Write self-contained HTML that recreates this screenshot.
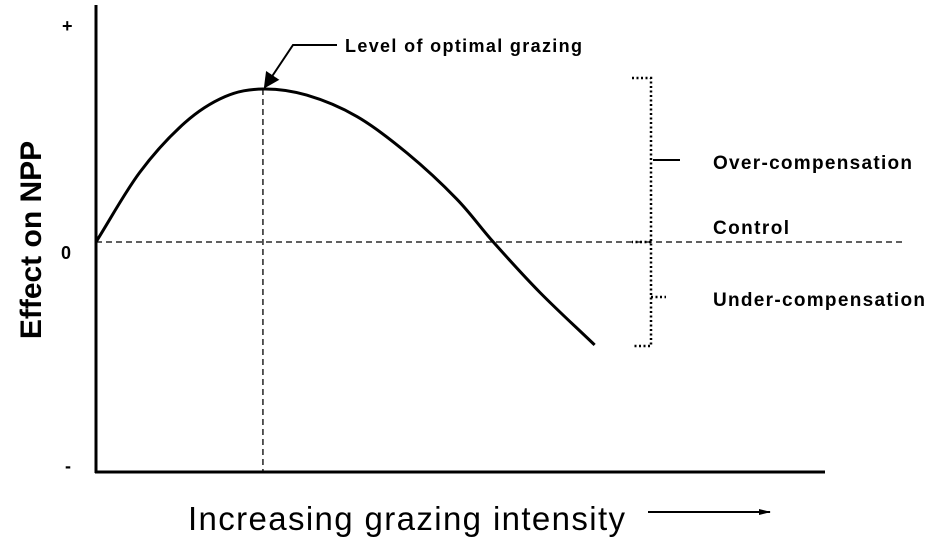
<!DOCTYPE html>
<html><head><meta charset="utf-8"><style>
body{margin:0;background:#fff}
svg{display:block;font-family:"Liberation Sans",Arial,sans-serif}
</style></head><body>
<svg id="c" width="945" height="546" viewBox="0 0 945 546">
<defs><marker id="ah" markerWidth="8" markerHeight="8" refX="7" refY="4" orient="auto"><path d="M0,0 L8,4 L0,8 z" fill="#000"/></marker>
<marker id="ah2" markerWidth="12" markerHeight="8" refX="11" refY="4" orient="auto" markerUnits="userSpaceOnUse"><path d="M0,1 L12,4 L0,7 z" fill="#000"/></marker></defs>
<g id="g"></g>
</svg>
<script>
const intensity=[0,6.0,12.2,17.7,22.9,28.9,35.8,42.7,49.5,54.5,60.9,68.4];
const effect=[0,0.455,0.78,0.95,1,0.96,0.82,0.58,0.28,0,-0.33,-0.673];
const peakIndex=4;
const sx=x=>96+x*7.29;
const sy=v=>242-v*153;
const NS='http://www.w3.org/2000/svg';
const g=document.getElementById('g');
function mk(tag,attrs,txt){const e=document.createElementNS(NS,tag);for(const k in attrs)e.setAttribute(k,attrs[k]);if(txt)e.textContent=txt;g.appendChild(e);return e;}
let e;
e=mk('line',{x1:96,y1:5,x2:96,y2:473,stroke:'#000','stroke-width':3});

e=mk('line',{x1:95,y1:472,x2:825,y2:472,stroke:'#000','stroke-width':3});

e=mk('line',{x1:96,y1:sy(0),x2:905,y2:sy(0),stroke:'#000','stroke-width':1.3,'stroke-dasharray':'6,4'});

const px=sx(intensity[peakIndex]),py=sy(effect[peakIndex]);
e=mk('line',{x1:px,y1:py,x2:px,y2:472,stroke:'#000','stroke-width':1.3,'stroke-dasharray':'6,4'});

const P=intensity.map((x,i)=>[sx(x),sy(effect[i])]);
const n=P.length;
const first=[2*P[0][0]-P[1][0],2*P[0][1]-P[1][1]];
const last=[2*P[n-1][0]-P[n-2][0],2*P[n-1][1]-P[n-2][1]];
let d='M'+P[0][0]+','+P[0][1];
for(let i=0;i<n-1;i++){const p0=i>0?P[i-1]:first,p1=P[i],p2=P[i+1],p3=i+2<n?P[i+2]:last;
d+=` C${p1[0]+(p2[0]-p0[0])/6},${p1[1]+(p2[1]-p0[1])/6} ${p2[0]-(p3[0]-p1[0])/6},${p2[1]-(p3[1]-p1[1])/6} ${p2[0]},${p2[1]}`;}
e=mk('path',{d:d,fill:'none',stroke:'#000','stroke-width':3});

e=mk('polyline',{points:`337,45 293,45 ${px+2},${py-2}`,fill:'none',stroke:'#000','stroke-width':2,'marker-end':'url(#ah)'});

e=mk('text',{x:345,y:52,'font-size':18,'font-weight':'bold',textLength:237},'Level of optimal grazing');

e=mk('path',{d:'M632,78 H651 V346 H632 M651,242 H632 M651,297 H666',fill:'none',stroke:'#000','stroke-width':2.5,'stroke-dasharray':'2,2.5'});

e=mk('line',{x1:653,y1:160,x2:680,y2:160,stroke:'#000','stroke-width':2});

e=mk('text',{x:713,y:169,'font-size':19,'font-weight':'bold',textLength:199},'Over-compensation');

e=mk('text',{x:713,y:234,'font-size':19,'font-weight':'bold',textLength:76},'Control');

e=mk('text',{x:713,y:306,'font-size':19,'font-weight':'bold',textLength:212},'Under-compensation');

e=mk('text',{x:62,y:32,'font-size':18,'font-weight':'bold'},'+');

e=mk('text',{x:61,y:259,'font-size':18,'font-weight':'bold'},'0');

e=mk('text',{x:65,y:472,'font-size':18,'font-weight':'bold'},'-');

e=mk('text',{x:0,y:0,'font-size':30,'font-weight':'bold','text-anchor':'middle',transform:'translate(41,240) rotate(-90)'},'Effect on NPP');

e=mk('text',{x:188,y:530,'font-size':33,'textLength':437},'Increasing grazing intensity');

e=mk('line',{x1:648,y1:512,x2:770,y2:512,stroke:'#000','stroke-width':2,'marker-end':'url(#ah2)'});

</script>
</body></html>
